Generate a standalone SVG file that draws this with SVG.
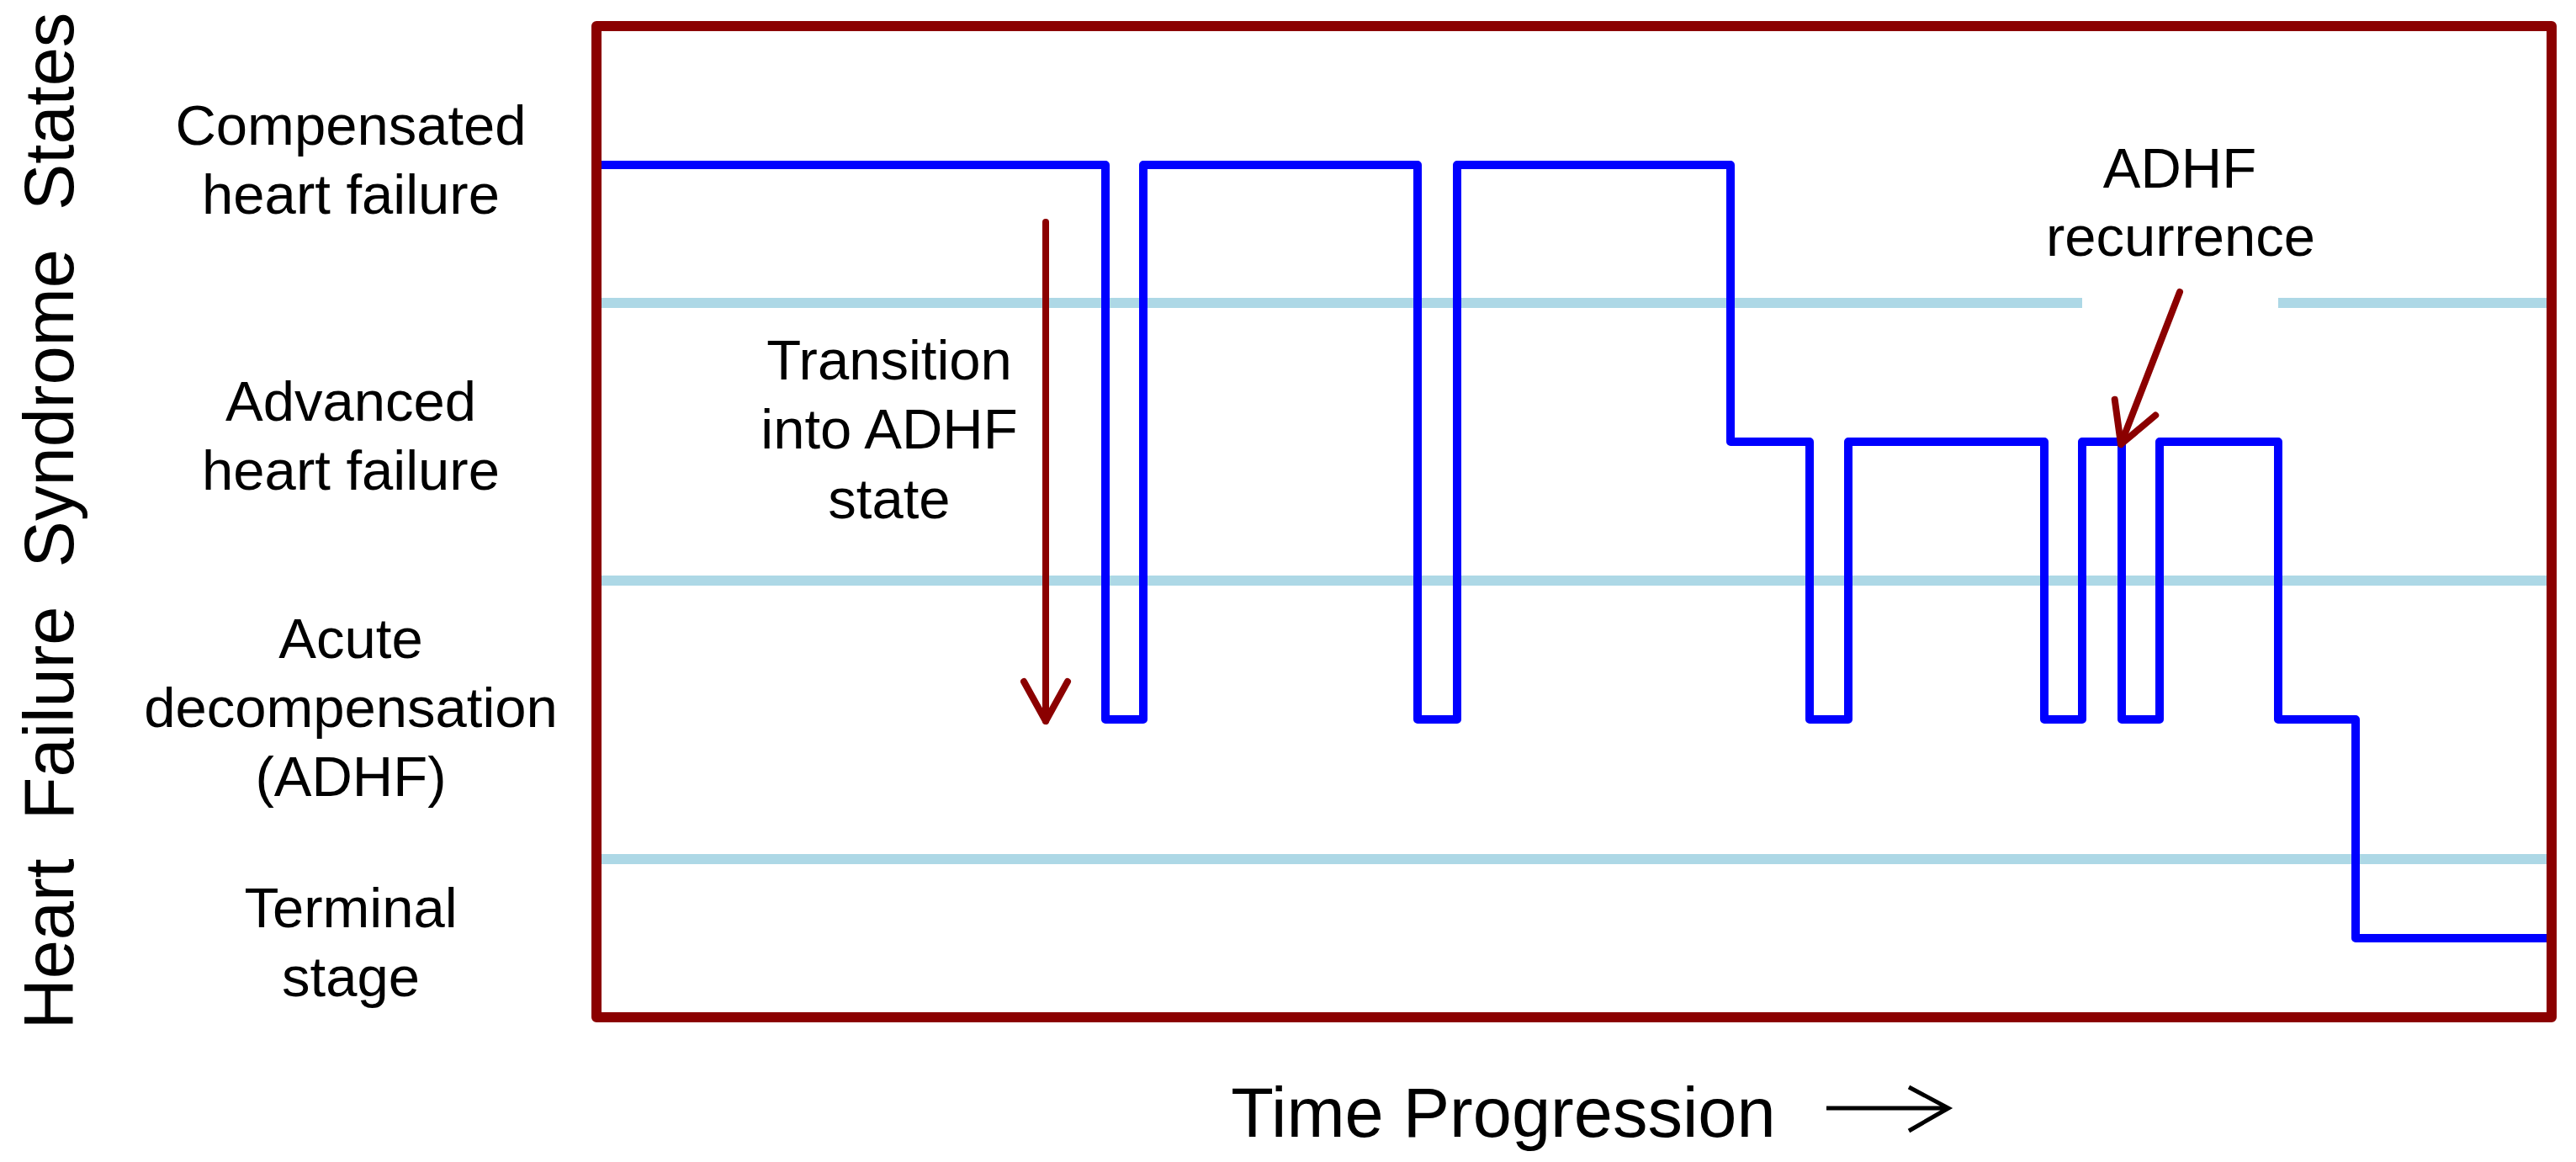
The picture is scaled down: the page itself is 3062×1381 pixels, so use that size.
<svg xmlns="http://www.w3.org/2000/svg" width="3062" height="1381" viewBox="0 0 3062 1381">
<style>
.lbl{font-family:"Liberation Sans",Arial,sans-serif;font-size:67px;fill:#000;text-anchor:middle}
.big{font-family:"Liberation Sans",Arial,sans-serif;font-size:83px;fill:#000;text-anchor:middle;white-space:pre}
.grid{stroke:#ADD8E6;stroke-width:12;fill:none}
.trace{stroke:#0000FF;stroke-width:10;fill:none;stroke-linejoin:round;stroke-linecap:round}
.redarrow{stroke:#8B0000;stroke-width:8;fill:none;stroke-linecap:round;stroke-linejoin:round;marker-end:url(#redhead)}
.frame{stroke:#8B0000;stroke-width:12;fill:none;stroke-linejoin:round}
</style>
<defs>
<marker id="redhead" markerUnits="userSpaceOnUse" orient="auto" refX="0" refY="0" markerWidth="60" markerHeight="60" overflow="visible">
<path d="M-47,-26 L0,0 L-47,26" stroke="#8B0000" stroke-width="8" fill="none" stroke-linecap="round" stroke-linejoin="round"/>
</marker>
</defs>
<rect width="3062" height="1381" fill="#fff"/>
<g id="gridlines">
<path class="grid" d="M715,360 H2475 M2708,360 H3027"/>
<path class="grid" d="M715,690 H3027"/>
<path class="grid" d="M715,1021 H3027"/>
</g>
<g id="axis-title">
<text class="big" transform="translate(87,619) rotate(-90)" xml:space="preserve">Heart  Failure  Syndrome  States</text>
<text class="big" x="1787" y="1351" xml:space="preserve">Time Progression</text>
<path d="M2171,1317 H2314 M2269,1292 L2316,1317 L2269,1344" stroke="#000" stroke-width="5" fill="none"/>
</g>
<g id="state-compensated">
<text class="lbl" x="417" y="172">Compensated</text>
<text class="lbl" x="417" y="254">heart failure</text>
</g>
<g id="state-advanced">
<text class="lbl" x="417" y="500">Advanced</text>
<text class="lbl" x="417" y="582">heart failure</text>
</g>
<g id="state-adhf">
<text class="lbl" x="417" y="782">Acute</text>
<text class="lbl" x="417" y="864">decompensation</text>
<text class="lbl" x="417" y="946">(ADHF)</text>
</g>
<g id="state-terminal">
<text class="lbl" x="417" y="1102">Terminal</text>
<text class="lbl" x="417" y="1184">stage</text>
</g>
<g id="trajectory">
<path class="trace" d="M712,196 H1314 V855 H1359 V196 H1685 V855 H1732 V196 H2057 V525 H2151 V855 H2197 V525 H2430 V855 H2475 V525 H2522 V855 H2567 V525 H2708 V855 H2800 V1115 H3030"/>
</g>
<g id="note-transition">
<text class="lbl" x="1057" y="451">Transition</text>
<text class="lbl" x="1057" y="533">into ADHF</text>
<text class="lbl" x="1057" y="616">state</text>
</g>
<g id="note-recurrence">
<text class="lbl" x="2591" y="223">ADHF</text>
<text class="lbl" x="2592" y="304">recurrence</text>
</g>
<g id="connectors">
<path class="redarrow" d="M1243,264 L1243,857"/>
<path class="redarrow" d="M2591,347 L2521,528"/>
</g>
<g id="frame">
<rect class="frame" x="709" y="31" width="2324" height="1178"/>
</g>
</svg>
